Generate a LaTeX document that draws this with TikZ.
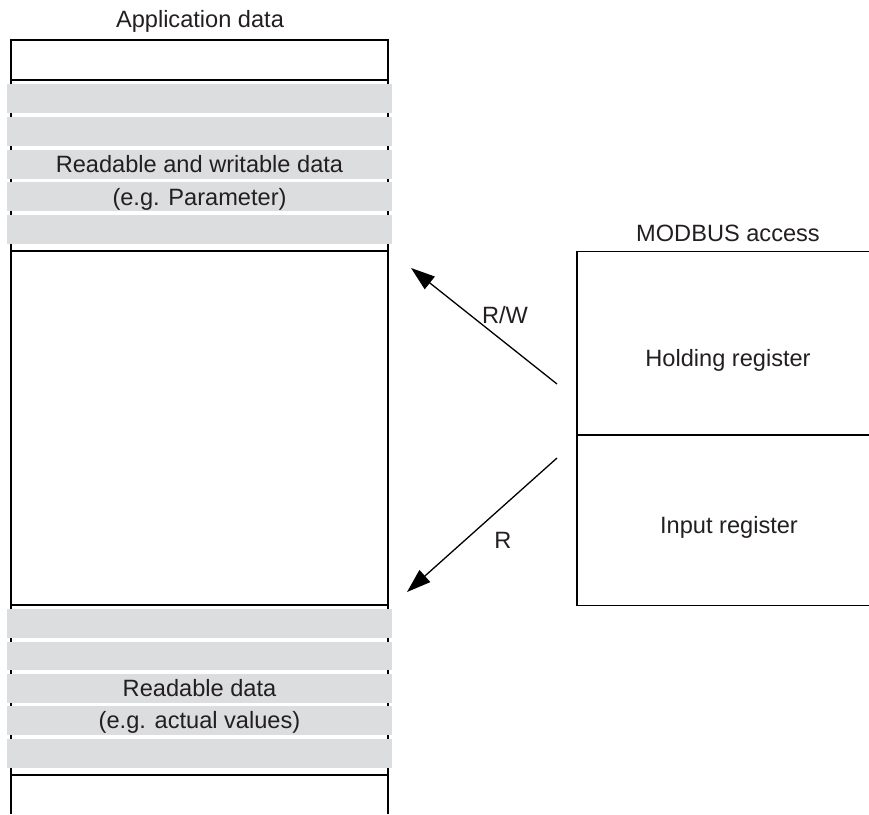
\documentclass[tikz,border=0pt]{standalone}
\usepackage{fontspec}
\setmainfont{Liberation Sans}
\usetikzlibrary{arrows.meta}
\definecolor{bandgray}{RGB}{220,221,223}
\definecolor{ink}{RGB}{35,31,32}

\begin{document}
\begin{tikzpicture}[
        x=1pt, y=-1pt,
        line width=1.2pt,
        band/.style={fill=bandgray},
        every node/.style={font=\fontsize{23.6}{28}\selectfont, text=ink, inner sep=0pt,
            text height=17pt, text depth=0pt},
        access/.style={draw, -{Triangle[length=24pt,width=16pt]}, line width=1.3pt}
    ]
    \useasboundingbox (0,0) rectangle (869,814);

    \draw (11,814) -- (11,40) -- (388,40) -- (388,814);
    \foreach \y in {80,251,605,775}
        \draw (11,\y) -- (388,\y);
    \foreach \y in {84,117,150,182,215,609,641.5,674,706,739}
        \fill[band] (7,\y) rectangle (392,\y+28.7);

    \node (appdata) at (200,19) {Application data};
    \node (rwdata) at (199.5,164) {Readable and writable data};
    \node (rwexample) at (199.5,196.5) {(e.g. Parameter)};
    \node (rdata) at (199.5,688) {Readable data};
    \node (rexample) at (199.5,720) {(e.g. actual values)};

    \draw (869,251.7) -- (577,251.7) -- (577,605.7) -- (869,605.7);
    \draw (577,435) -- (869,435);
    \node (modbus) at (728,233) {MODBUS access};
    \node (holding) at (728,358) {Holding register};
    \node (input) at (729,525) {Input register};

    \coordinate (holdingout) at (557,384);
    \coordinate (rwtarget) at (411,268);
    \coordinate (inputout) at (557,458);
    \coordinate (rtarget) at (407,592);
    \draw[access] (holdingout) -- (rwtarget);
    \draw[access] (inputout) -- (rtarget);
    \node (rwlabel) at (505,315) {R/W};
    \node (rlabel) at (503,540) {R};
\end{tikzpicture}
\end{document}
